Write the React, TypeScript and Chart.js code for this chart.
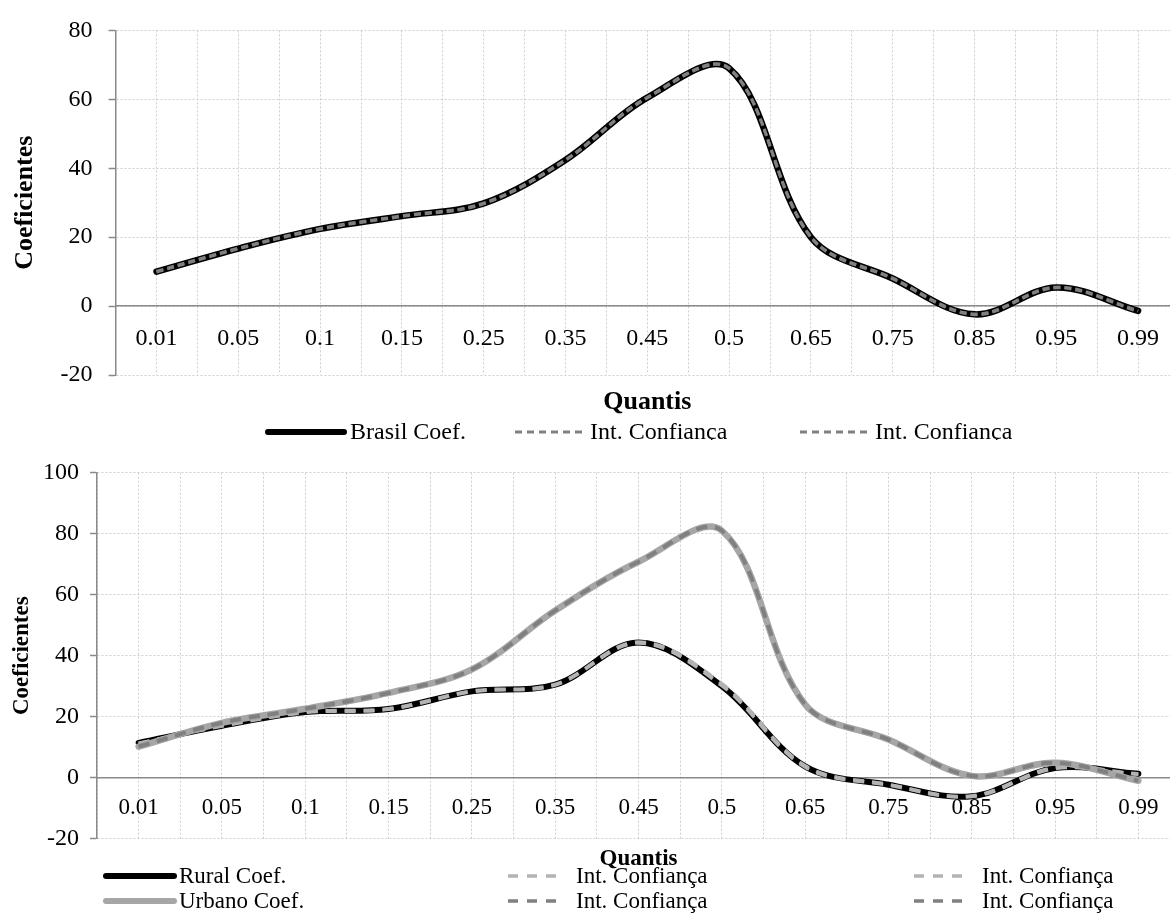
import React, { useEffect, useRef } from "react";
import { Chart, registerables } from "chart.js";

Chart.register(...registerables);

// ---------- data ----------
const quantis = ["0.01", "0.05", "0.1", "0.15", "0.25", "0.35", "0.45", "0.5", "0.65", "0.75", "0.85", "0.95", "0.99"];

const brasilCoef = [10, 16.7, 22.4, 26.1, 29.8, 42.4, 60.5, 69, 20, 8, -2.4, 5.4, -1.4];
const brasilCiLow = [9.9, 16.6, 22.3, 26.0, 29.7, 42.3, 60.4, 68.9, 19.9, 7.9, -2.5, 5.3, -1.5];
const brasilCiHigh = [10.1, 16.8, 22.5, 26.2, 29.9, 42.5, 60.6, 69.1, 20.1, 8.1, -2.3, 5.5, -1.3];

const ruralCoef = [11.4, 17, 21.5, 22.5, 28.3, 30.5, 44.3, 30, 3.7, -2.3, -6.1, 3.2, 1.3];
const ruralCiLow = [11.2, 16.9, 21.4, 22.4, 28.2, 30.4, 44.2, 30.2, 3.5, -2.4, -6.2, 3.0, 1.1];
const ruralCiHigh = [11.3, 17.1, 21.6, 22.6, 28.4, 30.6, 44.5, 30.8, 3.9, -2.2, -6.0, 3.3, 1.2];

const urbanoCoef = [10.2, 18, 22.6, 27.8, 35.5, 54.8, 70.8, 81, 24, 12.5, 0.6, 4.9, -1];
const urbanoCiLow = [10.1, 17.9, 22.5, 27.7, 35.4, 54.7, 70.7, 80.9, 23.9, 12.4, 0.5, 4.8, -1.1];
const urbanoCiHigh = [10.3, 18.1, 22.7, 27.9, 35.6, 54.9, 70.9, 81.1, 24.1, 12.6, 0.7, 5.0, -0.9];

const topYTicks = [-20, 0, 20, 40, 60, 80];
const bottomYTicks = [-20, 0, 20, 40, 60, 80, 100];

const yTitle = "Coeficientes";
const xTitle = "Quantis";

// ---------- styling ----------
const FONT = "'Liberation Serif', 'Times New Roman', serif";
const GRID = "#cfcfcf";
const AXIS = "#8a8a8a";

const overlayPlugin = {
  id: "overlay",
  afterDraw(chart: any, _args: any, opts: any) {
    const ctx = chart.ctx;
    const ca = chart.chartArea;
    ctx.save();
    if (opts.xTitle) {
      ctx.font = `bold ${opts.xTitleSize}px ${FONT}`;
      ctx.fillStyle = "#000";
      ctx.textAlign = "center";
      ctx.textBaseline = "middle";
      ctx.fillText(opts.xTitle, opts.xTitleX ?? (ca.left + ca.right) / 2, opts.xTitleY);
    }
    for (const it of opts.legend || []) {
      const ds = chart.data.datasets[it.index];
      ctx.beginPath();
      ctx.strokeStyle = ds.borderColor;
      ctx.lineWidth = it.lineWidth ?? ds.borderWidth;
      ctx.setLineDash(it.dash ?? ds.borderDash ?? []);
      ctx.lineCap = ds.borderCapStyle || "butt";
      ctx.moveTo(it.x, it.y);
      ctx.lineTo(it.x + it.w, it.y);
      ctx.stroke();
      ctx.setLineDash([]);
      ctx.font = `${opts.legendSize}px ${FONT}`;
      ctx.fillStyle = "#000";
      ctx.textAlign = "left";
      ctx.textBaseline = "middle";
      ctx.fillText(ds.label, it.x + it.w + it.gap, it.y + 1);
    }
    ctx.restore();
  },
};

function line(label: string, data: number[], color: string, width: number, dash: number[] | null, order: number) {
  return {
    label,
    data,
    borderColor: color,
    backgroundColor: color,
    borderWidth: width,
    borderDash: dash || [],
    borderCapStyle: dash ? "butt" : "round",
    borderJoinStyle: "round",
    pointRadius: 0,
    pointHoverRadius: 0,
    tension: 0.35,
    fill: false,
    order,
  };
}

function scales(opts: {
  yTicks: number[];
  yWidth: number;
  tickSize: number;
  xTickSize: number;
  xPad: number;
  yPad: number;
  titleSize: number;
  titlePad: number;
}) {
  return {
    x: {
      type: "category",
      position: { y: 0 },
      offset: true,
      grid: { offset: true, color: GRID, lineWidth: 1, drawTicks: false },
      border: { display: true, color: AXIS, width: 1.5, dash: [2, 2] },
      ticks: {
        color: "#000",
        font: { family: FONT, size: opts.xTickSize },
        padding: opts.xPad,
        maxRotation: 0,
        autoSkip: false,
      },
    },
    x2: {
      type: "category",
      position: { y: 0 },
      offset: true,
      grid: { offset: false, color: GRID, lineWidth: 1, drawTicks: false },
      border: { display: false, dash: [2, 2] },
      ticks: { display: false },
    },
    y: {
      type: "linear",
      position: "left",
      min: opts.yTicks[0],
      max: opts.yTicks[opts.yTicks.length - 1],
      ticks: {
        stepSize: opts.yTicks[1] - opts.yTicks[0],
        color: "#000",
        font: { family: FONT, size: opts.tickSize },
        padding: opts.yPad,
      },
      grid: {
        color: GRID,
        lineWidth: 1,
        drawTicks: true,
        tickLength: 7,
        tickColor: AXIS,
        tickWidth: 1.5,
        tickBorderDash: [],
      },
      border: { display: true, color: AXIS, width: 1.5, dash: [2, 2] },
      title: {
        display: true,
        text: yTitle,
        color: "#000",
        font: { family: FONT, size: opts.titleSize, weight: "bold" },
        padding: { top: opts.titlePad, bottom: 0 },
      },
      afterFit(scale: any) {
        scale.width = opts.yWidth;
      },
    },
  };
}

function topConfig(): any {
  return {
    type: "line",
    data: {
      labels: quantis,
      datasets: [
        line("Brasil Coef.", brasilCoef, "#000000", 6.5, null, 2),
        line("Int. Confiança", brasilCiLow, "#808080", 3, [7, 4], 1),
        line("Int. Confiança", brasilCiHigh, "#808080", 3, [7, 4], 1),
      ],
    },
    options: {
      responsive: false,
      animation: false,
      events: [],
      layout: { padding: { top: 25, bottom: 65, left: 0, right: 1 } },
      plugins: {
        legend: { display: false },
        tooltip: { enabled: false },
        overlay: {
          xTitle,
          xTitleSize: 26,
          xTitleY: 402,
          legendSize: 24,
          legend: [
            { index: 0, x: 268, y: 432, w: 76, gap: 6, lineWidth: 6 },
            { index: 1, x: 515, y: 432, w: 70, gap: 5, dash: [7, 5], lineWidth: 3 },
            { index: 2, x: 800, y: 432, w: 70, gap: 5, dash: [7, 5], lineWidth: 3 },
          ],
        },
      },
      scales: scales({
        yTicks: topYTicks,
        yWidth: 115.6,
        tickSize: 24,
        xTickSize: 24,
        xPad: 18,
        yPad: 16,
        titleSize: 26,
        titlePad: 9.4,
      }),
    },
    plugins: [overlayPlugin],
  };
}

function bottomConfig(): any {
  return {
    type: "line",
    data: {
      labels: quantis,
      datasets: [
        line("Rural Coef.", ruralCoef, "#000000", 6, null, 4),
        line("Int. Confiança", ruralCiLow, "#b3b3b3", 3.5, [11, 8], 3),
        line("Int. Confiança", ruralCiHigh, "#b3b3b3", 3.5, [11, 8], 3),
        line("Urbano Coef.", urbanoCoef, "#a6a6a6", 6.5, null, 2),
        line("Int. Confiança", urbanoCiLow, "#808080", 3.5, [11, 8], 1),
        line("Int. Confiança", urbanoCiHigh, "#808080", 3.5, [11, 8], 1),
      ],
    },
    options: {
      responsive: false,
      animation: false,
      events: [],
      layout: { padding: { top: 32.7, bottom: 74.3, left: 0, right: 0 } },
      plugins: {
        legend: { display: false },
        tooltip: { enabled: false },
        overlay: {
          xTitle,
          xTitleSize: 23,
          xTitleY: 419,
          legendSize: 23,
          legend: [
            { index: 0, x: 106, y: 436, w: 68, gap: 5, lineWidth: 6 },
            { index: 1, x: 508, y: 436, w: 48, gap: 20, dash: [10, 9], lineWidth: 3.5 },
            { index: 2, x: 914, y: 436, w: 48, gap: 20, dash: [10, 9], lineWidth: 3.5 },
            { index: 3, x: 106, y: 461, w: 68, gap: 5, lineWidth: 6 },
            { index: 4, x: 508, y: 461, w: 48, gap: 20, dash: [10, 9], lineWidth: 3.5 },
            { index: 5, x: 914, y: 461, w: 48, gap: 20, dash: [10, 9], lineWidth: 3.5 },
          ],
        },
      },
      scales: scales({
        yTicks: bottomYTicks,
        yWidth: 97,
        tickSize: 24,
        xTickSize: 23,
        xPad: 16,
        yPad: 11,
        titleSize: 23,
        titlePad: 8.7,
      }),
    },
    plugins: [overlayPlugin],
  };
}

function ChartCanvas(props: { make: () => any; top: number; width: number; height: number }) {
  const ref = useRef<HTMLCanvasElement | null>(null);
  useEffect(() => {
    if (!ref.current) return;
    const chart = new Chart(ref.current, props.make());
    return () => chart.destroy();
  }, []);
  return (
    <canvas
      ref={ref}
      width={props.width}
      height={props.height}
      style={{ position: "absolute", left: 0, top: props.top, width: props.width, height: props.height }}
    />
  );
}

export default function App() {
  return (
    <div
      style={{
        position: "absolute",
        left: 0,
        top: 0,
        width: 1170,
        height: 913,
        overflow: "hidden",
        background: "#ffffff",
      }}
    >
      <ChartCanvas make={topConfig} top={0} width={1180} height={440} />
      <ChartCanvas make={bottomConfig} top={440} width={1180} height={473} />
    </div>
  );
}
